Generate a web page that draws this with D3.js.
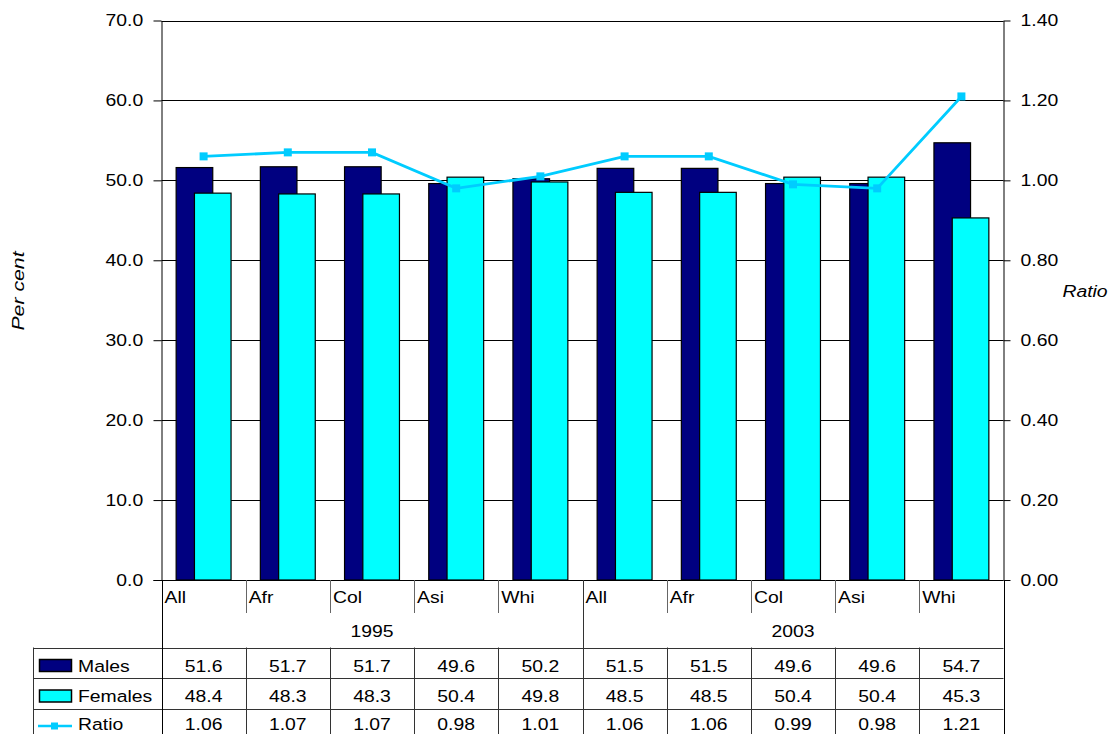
<!DOCTYPE html>
<html>
<head>
<meta charset="utf-8">
<script src="https://cdn.jsdelivr.net/npm/d3@7"></script>
<style>
  html, body { margin: 0; padding: 0; background: #fff; }
  svg { display: block; font-family: "Liberation Sans", Arial, sans-serif; }
</style>
</head>
<body>
<svg id="chart" width="1109" height="734"></svg>
<script>
// Population share by sex and group, 1995 and 2003
const categories = ["All", "Afr", "Col", "Asi", "Whi", "All", "Afr", "Col", "Asi", "Whi"];
const groups = ["1995", "2003"];
const groupSize = 5;
const males   = [51.6, 51.7, 51.7, 49.6, 50.2, 51.5, 51.5, 49.6, 49.6, 54.7];
const females = [48.4, 48.3, 48.3, 50.4, 49.8, 48.5, 48.5, 50.4, 50.4, 45.3];
const ratio   = [1.06, 1.07, 1.07, 0.98, 1.01, 1.06, 1.06, 0.99, 0.98, 1.21];
const leftTicks  = [0, 10, 20, 30, 40, 50, 60, 70];
const rightTicks = [0, 0.2, 0.4, 0.6, 0.8, 1.0, 1.2, 1.4];

const COL_M = "#000080", COL_F = "#00FFFF", COL_R = "#00CCFF";
const SX = 1.14;       // horizontal stretch applied to all text
const FS = 17;

const svg = d3.select("#chart");
const plot = { left: 161.5, right: 1003.5, top: 20.5, bottom: 580 };

const x = d3.scaleBand().domain(d3.range(categories.length))
  .range([plot.left, plot.right]).paddingInner(0).paddingOuter(0);
const yL = d3.scaleLinear().domain([0, 70]).range([plot.bottom, plot.top]);
const yR = d3.scaleLinear().domain([0, 1.4]).range([plot.bottom, plot.top]);

// bar geometry: 80% gap width, 50% overlap
const bw = x.bandwidth() / 2.3;
const mid = i => x(i) + x.bandwidth() / 2;

function label(g, tx, ty, str, anchor) {
  return g.append("text")
    .attr("transform", `translate(${tx},${ty}) scale(${SX},1)`)
    .attr("text-anchor", anchor || "start")
    .attr("font-size", FS)
    .attr("fill", "#000")
    .text(str);
}

// gridlines
svg.append("g").selectAll("line").data(leftTicks.filter(d => d > 0)).join("line")
  .attr("x1", plot.left).attr("x2", plot.right)
  .attr("y1", d => Math.round(yL(d)) + 0.5).attr("y2", d => Math.round(yL(d)) + 0.5)
  .attr("stroke", "#000").attr("stroke-width", 1);

// bars
const bars = svg.append("g");
bars.selectAll("rect.m").data(males).join("rect").attr("class", "m")
  .attr("x", (d, i) => mid(i) - 0.75 * bw).attr("width", bw)
  .attr("y", d => yL(d)).attr("height", d => yL(0) - yL(d))
  .attr("fill", COL_M).attr("stroke", "#000").attr("stroke-width", 1.2);
bars.selectAll("rect.f").data(females).join("rect").attr("class", "f")
  .attr("x", (d, i) => mid(i) - 0.25 * bw).attr("width", bw)
  .attr("y", d => yL(d)).attr("height", d => yL(0) - yL(d))
  .attr("fill", COL_F).attr("stroke", "#000").attr("stroke-width", 1.2);

// ratio line on the secondary axis
svg.append("path").datum(ratio)
  .attr("fill", "none").attr("stroke", COL_R).attr("stroke-width", 2.8)
  .attr("d", d3.line().x((d, i) => mid(i)).y(d => yR(d)));
svg.append("g").selectAll("rect").data(ratio).join("rect")
  .attr("x", (d, i) => mid(i) - 4).attr("y", d => yR(d) - 4)
  .attr("width", 8).attr("height", 8).attr("fill", COL_R);

// left axis
const axL = svg.append("g").attr("transform", `translate(${plot.left},0)`)
  .call(d3.axisLeft(yL).tickValues(leftTicks).tickFormat(d3.format(".1f"))
    .tickSize(8).tickSizeOuter(0).tickPadding(8));
axL.selectAll("text").attr("font-size", FS).attr("font-family", null)
  .attr("transform", `scale(${SX},1)`).attr("fill", "#000");
axL.select(".domain").attr("stroke", "#000");
axL.selectAll(".tick line").attr("stroke", "#000");

// right axis
const axR = svg.append("g").attr("transform", `translate(${plot.right},0)`)
  .call(d3.axisRight(yR).tickValues(rightTicks).tickFormat(d3.format(".2f"))
    .tickSize(7).tickSizeOuter(0).tickPadding(8));
axR.selectAll("text").attr("font-size", FS).attr("font-family", null)
  .attr("transform", `scale(${SX},1)`).attr("fill", "#000");
axR.select(".domain").attr("stroke", "#000");
axR.selectAll(".tick line").attr("stroke", "#000");

// baseline
svg.append("line").attr("x1", plot.left - 8).attr("x2", plot.right)
  .attr("y1", plot.bottom + 0.5).attr("y2", plot.bottom + 0.5).attr("stroke", "#000");

// axis titles
svg.append("text")
  .attr("transform", `translate(24,291) rotate(-90) scale(1.25,1)`)
  .attr("text-anchor", "middle").attr("font-size", FS).attr("font-style", "italic")
  .text("Per cent");
label(svg, 1085, 297, "Ratio", "middle").attr("font-style", "italic");

// category and group labels under the plot
const tbl = svg.append("g");
const rowTop = 647.5, rowH = 30.5;
const lineCol = "#333";

categories.forEach((c, i) => {
  label(tbl, x(i) + 3, 603, c, "start");
});
d3.range(1, categories.length).forEach(i => {
  const xx = Math.round(x(i)) + 0.5;
  const isGroup = i % groupSize === 0;
  tbl.append("line").attr("x1", xx).attr("x2", xx)
    .attr("y1", plot.bottom).attr("y2", isGroup ? 734 : 613)
    .attr("stroke", isGroup ? lineCol : "#666");
});
groups.forEach((g, gi) => {
  const a = x(gi * groupSize), b = x(gi * groupSize + groupSize - 1) + x.bandwidth();
  label(tbl, (a + b) / 2, 637, g, "middle");
});

// data table
const rows = [
  { name: "Males", values: males, fmt: d3.format(".1f"), key: "bar", color: COL_M },
  { name: "Females", values: females, fmt: d3.format(".1f"), key: "bar", color: COL_F },
  { name: "Ratio", values: ratio, fmt: d3.format(".2f"), key: "line", color: COL_R }
];
const tableLeft = 33.5;

// horizontal rules
[0, 1, 2].forEach(r => {
  const yy = Math.round(rowTop + r * rowH) + 0.5;
  tbl.append("line").attr("x1", tableLeft).attr("x2", plot.right)
    .attr("y1", yy).attr("y2", yy).attr("stroke", lineCol);
});
// vertical rules
tbl.append("line").attr("x1", tableLeft).attr("x2", tableLeft)
  .attr("y1", rowTop).attr("y2", 734).attr("stroke", lineCol);
tbl.append("line").attr("x1", Math.round(plot.left) + 0.5).attr("x2", Math.round(plot.left) + 0.5)
  .attr("y1", plot.bottom).attr("y2", 734).attr("stroke", "#000");
tbl.append("line").attr("x1", Math.round(plot.right) + 0.5).attr("x2", Math.round(plot.right) + 0.5)
  .attr("y1", plot.bottom).attr("y2", 734).attr("stroke", "#000");
d3.range(1, categories.length).forEach(i => {
  if (i % groupSize === 0) return;
  const xx = Math.round(x(i)) + 0.5;
  tbl.append("line").attr("x1", xx).attr("x2", xx)
    .attr("y1", rowTop).attr("y2", 734).attr("stroke", lineCol);
});

rows.forEach((row, r) => {
  const top = rowTop + r * rowH;
  const base = Math.min(top + 24, 730);
  // legend key
  if (row.key === "bar") {
    tbl.append("rect").attr("x", 39.5).attr("y", top + 12).attr("width", 32).attr("height", 12)
      .attr("fill", row.color).attr("stroke", "#000").attr("stroke-width", 1.5);
  } else {
    tbl.append("line").attr("x1", 38).attr("x2", 72).attr("y1", top + 17.5).attr("y2", top + 17.5)
      .attr("stroke", row.color).attr("stroke-width", 2.5);
    tbl.append("rect").attr("x", 51).attr("y", top + 14).attr("width", 7).attr("height", 7)
      .attr("fill", row.color);
  }
  label(tbl, 78, base, row.name, "start");
  row.values.forEach((v, i) => label(tbl, mid(i), base, row.fmt(v), "middle"));
});
</script>
</body>
</html>
